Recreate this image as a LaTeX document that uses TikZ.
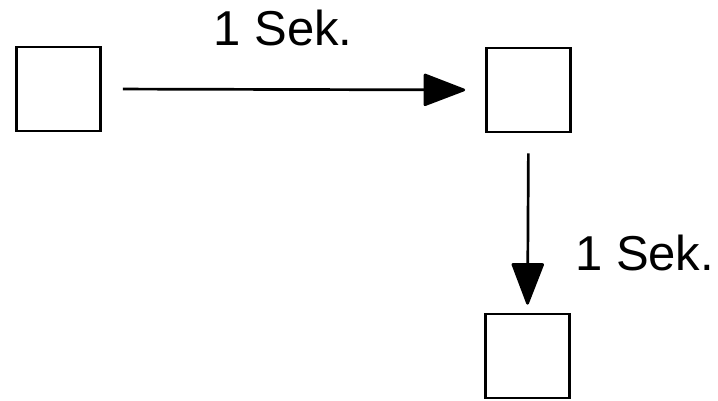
\documentclass[tikz,border=0pt]{standalone}
\usepackage{fontspec}
\setmainfont{Liberation Sans}
\usetikzlibrary{arrows.meta}
\begin{document}
\begin{tikzpicture}[x=1pt,y=-1pt,
  box/.style={draw, line width=2.7pt, minimum width=84pt, minimum height=84pt, inner sep=0pt},
  flow/.style={line width=2.7pt, -{Triangle[length=44pt,width=33pt,round]}},
  lbl/.style={inner sep=0pt, font=\fontsize{49pt}{55pt}\selectfont}]
  \useasboundingbox (0,0) rectangle (718,400);
  \node[box] (a) at (58.5,89) {};
  \node[box] (b) at (528.5,90) {};
  \node[box] (c) at (527.5,356) {};
  \draw[flow, shorten <=21pt, shorten >=20pt] (a.east) -- (b.west);
  \draw[flow, shorten <=20pt, shorten >=8pt] (b.south) -- (c.north);
  \node[lbl, anchor=base] (t1) at (283,45) {1 Sek.};
  \node[lbl, anchor=base west] (t2) at (575,270) {1 Sek.};
\end{tikzpicture}
\end{document}
